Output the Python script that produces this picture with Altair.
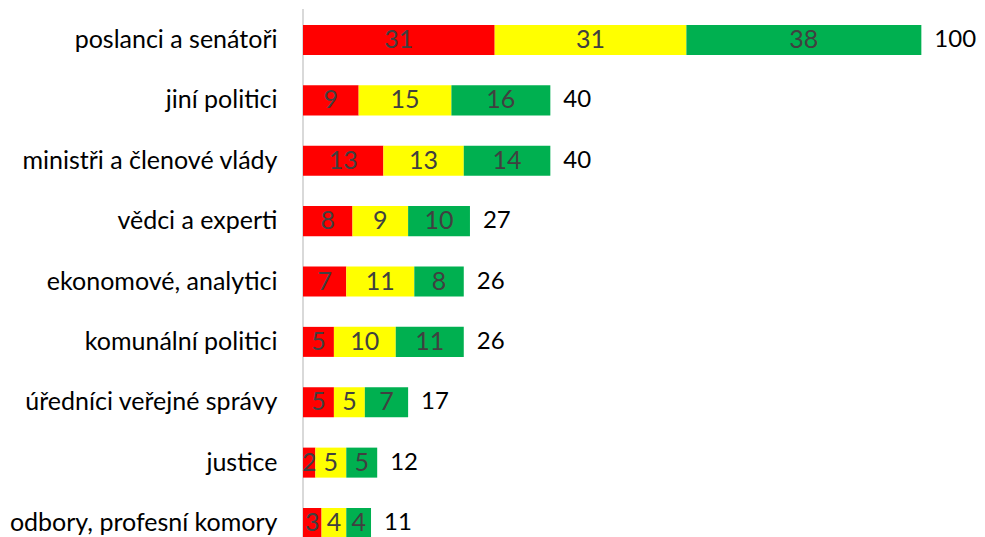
import altair as alt
import pandas as pd

categories = [
    "poslanci a senátoři",
    "jiní politici",
    "ministři a členové vlády",
    "vědci a experti",
    "ekonomové, analytici",
    "komunální politici",
    "úředníci veřejné správy",
    "justice",
    "odbory, profesní komory",
]
red_vals = [31, 9, 13, 8, 7, 5, 5, 2, 3]
yellow_vals = [31, 15, 13, 9, 11, 10, 5, 5, 4]
green_vals = [38, 16, 14, 10, 8, 11, 7, 5, 4]
series_names = ["červená", "žlutá", "zelená"]
series_colors = ["#FF0000", "#FFFF00", "#00B050"]

rows = []
for i, c in enumerate(categories):
    start = 0
    for s, vals in enumerate([red_vals, yellow_vals, green_vals]):
        v = vals[i]
        rows.append({"cat": c, "series": series_names[s], "order": s,
                     "start": start, "end": start + v, "mid": start + v / 2, "value": v})
        start += v
seg = pd.DataFrame(rows)
tot = pd.DataFrame({"cat": categories,
                    "total": [r + y + g for r, y, g in zip(red_vals, yellow_vals, green_vals)]})

FONT = "Lato"
FS = 25
W = 674
H = 529

xscale = alt.Scale(domain=[0, 109.0], nice=False, zero=True)
yscale = alt.Scale(range=[17, 530], paddingInner=0.503, paddingOuter=0)
yenc = alt.Y("cat:N", sort=categories, scale=yscale,
             axis=alt.Axis(title=None, ticks=False, grid=False, domain=False,
                           labelFont=FONT, labelFontSize=FS, labelColor="#000000",
                           labelPadding=26, labelLimit=400))

axis_line = alt.Chart(pd.DataFrame({"a": [0]})).mark_rule(color="#d9d9d9", strokeWidth=2).encode(
    x=alt.value(0), y=alt.value(1), y2=alt.value(H),
)

bars = alt.Chart(seg).mark_bar().encode(
    x=alt.X("start:Q", scale=xscale, axis=None),
    x2="end:Q",
    y=yenc,
    color=alt.Color("series:N", scale=alt.Scale(domain=series_names, range=series_colors), legend=None),
)

seg_text = alt.Chart(seg).mark_text(font=FONT, fontSize=FS, color="#404040",
                                    align="center", baseline="middle").encode(
    x=alt.X("mid:Q", scale=xscale, axis=None),
    y=alt.Y("cat:N", sort=categories, scale=yscale),
    text="value:Q",
)

tot_text = alt.Chart(tot).mark_text(font=FONT, fontSize=24, color="#000000",
                                    align="left", baseline="middle", dx=13).encode(
    x=alt.X("total:Q", scale=xscale, axis=None),
    y=alt.Y("cat:N", sort=categories, scale=yscale),
    text="total:Q",
)

chart = alt.layer(axis_line, bars, seg_text, tot_text).properties(
    width=W, height=H,
    autosize=alt.AutoSizeParams(type="none"),
    padding={"left": 295, "top": 0, "right": 0, "bottom": 0},
).configure_view(stroke=None)

chart.save("out.html", embed_options={"renderer": "svg", "actions": False})
